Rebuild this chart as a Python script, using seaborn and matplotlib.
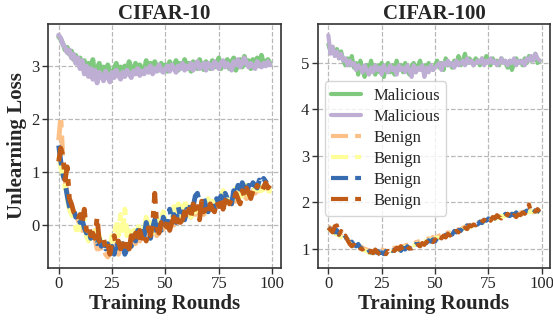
import numpy as np
import seaborn as sns
import matplotlib.pyplot as plt

rounds = list(range(100))
titles = ["CIFAR-10", "CIFAR-100"]

# CIFAR-10 unlearning loss
c10_mal_a = [3.55, 3.50, 3.42, 3.30, 3.35, 3.22, 3.28, 3.12, 3.20, 3.05,
             3.15, 2.95, 3.10, 2.85, 3.05, 2.90, 3.12, 2.80, 2.95, 3.05,
             2.85, 2.98, 2.82, 3.02, 2.88, 2.78, 2.95, 3.05, 2.90, 2.98,
             2.85, 3.00, 2.92, 3.08, 2.95, 2.88, 3.05, 2.92, 3.02, 2.95,
             2.88, 3.10, 2.95, 3.05, 2.90, 3.08, 2.98, 2.92, 3.05, 2.95,
             3.02, 2.90, 3.08, 2.95, 3.00, 3.10, 2.92, 3.05, 2.98, 3.12,
             2.95, 3.05, 2.90, 3.08, 3.00, 2.95, 3.12, 3.00, 2.93, 3.08,
             3.02, 2.95, 3.10, 2.98, 3.05, 3.15, 2.95, 3.05, 3.00, 3.12,
             2.95, 3.08, 3.15, 2.92, 3.05, 3.12, 2.98, 3.18, 3.02, 3.10,
             2.95, 3.12, 3.05, 3.15, 3.00, 3.20, 3.02, 3.08, 3.12, 3.05]
c10_mal_b = [3.58, 3.52, 3.40, 3.35, 3.25, 3.30, 3.15, 3.22, 3.05, 3.15,
             2.95, 3.10, 2.85, 3.00, 2.80, 2.95, 2.75, 2.92, 2.68, 2.88,
             2.82, 2.72, 2.90, 2.80, 2.70, 2.88, 2.78, 2.92, 2.82, 2.75,
             2.88, 2.80, 2.92, 2.85, 2.78, 2.90, 2.85, 2.95, 2.82, 2.90,
             2.85, 2.95, 2.88, 3.00, 2.85, 2.95, 2.90, 3.02, 2.92, 2.88,
             2.95, 3.00, 2.90, 3.02, 2.95, 2.88, 3.00, 2.95, 3.05, 2.92,
             3.00, 2.95, 3.05, 2.92, 3.02, 3.08, 2.95, 3.00, 3.05, 2.92,
             3.05, 3.00, 2.95, 3.08, 3.02, 2.95, 3.05, 3.10, 2.98, 3.05,
             3.00, 2.92, 3.08, 3.02, 3.12, 2.98, 3.05, 3.15, 3.05, 2.98,
             3.05, 3.00, 2.95, 3.08, 3.02, 2.98, 3.05, 3.00, 3.08, 3.02]
c10_ben_a = [1.60, 2.05, 1.20, 0.85, 0.60, 0.40, 0.30, 0.20, 0.25, 0.10,
             0.00, -0.10, -0.05, -0.20, -0.25, -0.30, -0.35, -0.25, -0.45, -0.40,
             -0.50, -0.45, -0.55, -0.60, -0.50, -0.45, -0.50, -0.40, -0.55, -0.45,
             -0.50, -0.40, -0.45, -0.35, -0.40, -0.30, -0.35, -0.25, -0.30, -0.20,
             -0.25, -0.15, -0.20, -0.10, -0.15, -0.05, -0.20, -0.10, -0.15, -0.05,
             -0.10, 0.00, -0.05, 0.05, 0.00, 0.10, 0.05, 0.15, 0.10, 0.15,
             0.10, 0.20, 0.15, 0.25, 0.20, 0.30, 0.25, 0.35, 0.20, 0.30,
             0.25, 0.35, 0.30, 0.40, 0.35, 0.30, 0.40, 0.35, 0.45, 0.40,
             0.45, 0.40, 0.50, 0.45, 0.55, 0.50, 0.60, 0.55, 0.50, 0.60,
             0.55, 0.65, 0.60, 0.70, 0.65, 0.60, 0.70, 0.75, 0.68, 0.72]
c10_ben_b = [1.30, 1.10, 0.90, 0.70, 0.50, 0.30, 0.20, 0.15, -0.05, -0.20,
             0.05, 0.30, 0.10, -0.20, -0.30, -0.15, -0.25, -0.10, -0.30, -0.20,
             -0.35, -0.25, -0.40, -0.30, -0.45, -0.20, -0.30, 0.10, -0.20, 0.20,
             -0.10, 0.30, -0.20, 0.00, -0.30, -0.10, -0.20, 0.05, -0.15, -0.05,
             -0.10, 0.15, -0.05, 0.10, -0.15, 0.05, 0.20, 0.00, 0.10, 0.25,
             0.05, 0.15, -0.05, 0.10, 0.35, 0.20, 0.40, 0.10, 0.30, 0.50,
             0.20, 0.35, 0.15, 0.30, 0.25, 0.45, 0.30, 0.40, 0.35, 0.25,
             0.50, 0.30, 0.45, 0.35, 0.55, 0.40, 0.50, 0.65, 0.45, 0.55,
             0.40, 0.60, 0.50, 0.70, 0.55, 0.65, 0.50, 0.60, 0.75, 0.55,
             0.65, 0.60, 0.70, 0.55, 0.75, 0.65, 0.70, 0.60, 0.55, 0.70]
c10_ben_c = [1.50, 1.20, 0.95, 0.80, 0.55, 0.35, 0.28, 0.30, 0.15, 0.20,
             0.05, 0.10, -0.05, -0.15, -0.10, -0.25, -0.20, -0.30, -0.35, -0.25,
             -0.40, -0.30, -0.45, -0.35, -0.50, -0.40, -0.55, -0.30, -0.45, -0.50,
             -0.35, -0.55, -0.45, -0.30, -0.40, -0.20, -0.30, -0.10, -0.25, -0.05,
             -0.20, 0.05, -0.10, -0.25, -0.05, 0.10, -0.15, 0.00, -0.10, 0.15,
             0.00, 0.05, 0.30, 0.10, 0.20, 0.05, 0.35, 0.15, 0.25, 0.10,
             0.30, 0.20, 0.45, 0.35, 0.55, 0.60, 0.40, 0.30, 0.50, 0.35,
             0.25, 0.40, 0.45, 0.30, 0.50, 0.40, 0.55, 0.45, 0.60, 0.50,
             0.55, 0.40, 0.65, 0.55, 0.75, 0.60, 0.80, 0.70, 0.55, 0.75,
             0.65, 0.80, 0.75, 0.70, 0.85, 0.78, 0.88, 0.82, 0.75, 0.80]
c10_ben_d = [1.20, 1.45, 1.30, 0.85, 1.10, 0.50, 0.40, 0.25, 0.20, 0.10,
             0.20, 0.05, 0.30, -0.10, 0.00, -0.20, -0.15, -0.25, 0.15, -0.30,
             -0.35, -0.25, -0.45, -0.35, -0.55, -0.30, -0.20, -0.40, -0.30, -0.45,
             -0.35, -0.50, -0.30, -0.45, -0.20, -0.35, -0.15, -0.30, -0.10, -0.25,
             -0.15, -0.30, -0.05, -0.20, 0.00, 0.60, -0.05, -0.15, 0.05, -0.10,
             -0.05, 0.10, -0.10, 0.05, 0.15, 0.00, 0.20, 0.05, 0.10, 0.25,
             0.10, 0.30, 0.15, 0.40, 0.20, 0.35, 0.10, 0.45, 0.25, 0.30,
             0.20, 0.40, 0.30, 0.25, 0.45, 0.35, 0.50, 0.30, 0.45, 0.55,
             0.40, 0.50, 0.45, 0.60, 0.50, 0.40, 0.65, 0.55, 0.70, 0.60,
             0.50, 0.65, 0.60, 0.75, 0.68, 0.62, 0.72, 0.80, 0.70, 0.75]

# CIFAR-100 unlearning loss
c100_mal_a = [5.40, 5.25, 5.35, 5.20, 5.30, 5.10, 5.25, 5.05, 4.95, 5.10,
              4.95, 5.15, 4.90, 5.00, 4.75, 5.05, 4.85, 4.70, 4.95, 4.80,
              5.05, 4.85, 4.75, 4.95, 4.80, 5.00, 4.70, 4.90, 5.00, 4.80,
              4.95, 4.75, 5.05, 4.85, 4.95, 4.80, 5.00, 4.85, 4.75, 4.95,
              5.00, 4.80, 4.95, 5.05, 4.85, 4.95, 4.80, 5.00, 4.90, 4.85,
              4.95, 5.05, 4.90, 5.00, 4.85, 5.10, 4.95, 5.00, 4.90, 5.05,
              5.00, 5.15, 4.95, 5.05, 5.20, 5.00, 5.10, 5.05, 4.95, 5.10,
              5.05, 4.95, 5.10, 5.00, 5.15, 5.05, 4.95, 5.10, 5.00, 5.05,
              4.95, 5.10, 5.05, 5.00, 4.90, 5.05, 4.85, 5.00, 5.10, 5.00,
              5.05, 4.95, 5.10, 5.00, 5.15, 5.05, 5.10, 5.20, 5.00, 5.05]
c100_mal_b = [5.60, 5.20, 5.35, 5.15, 5.25, 5.10, 5.20, 5.05, 5.10, 4.95,
              5.05, 4.95, 5.00, 4.85, 4.95, 4.90, 4.80, 4.95, 4.85, 4.75,
              4.90, 4.80, 4.95, 4.85, 4.90, 4.75, 4.95, 4.85, 4.80, 4.95,
              4.85, 4.90, 4.75, 4.95, 4.85, 4.90, 4.80, 4.95, 4.85, 4.70,
              4.95, 4.80, 4.90, 4.85, 4.95, 4.70, 4.90, 4.80, 4.95, 4.85,
              4.90, 4.95, 5.00, 4.85, 5.00, 4.95, 5.05, 4.95, 5.00, 4.90,
              5.05, 4.95, 5.00, 5.05, 4.95, 5.10, 5.00, 5.05, 4.95, 5.00,
              5.05, 5.00, 5.10, 4.95, 5.05, 5.00, 5.10, 5.00, 5.05, 4.95,
              5.00, 5.10, 5.00, 5.05, 4.95, 5.05, 5.00, 5.10, 4.95, 5.05,
              5.00, 5.05, 4.95, 5.10, 5.05, 5.15, 5.05, 5.20, 5.10, 5.05]
c100_ben_a = [1.48, 1.45, 1.40, 1.38, 1.35, 1.32, 1.28, 1.25, 1.22, 1.18,
              1.15, 1.12, 1.10, 1.08, 1.05, 1.05, 1.02, 1.00, 0.98, 0.96,
              0.95, 0.93, 0.92, 0.94, 0.96, 0.98, 0.95, 0.97, 1.00, 0.98,
              1.00, 1.02, 1.00, 1.03, 1.05, 1.04, 1.07, 1.08, 1.10, 1.12,
              1.10, 1.14, 1.15, 1.17, 1.16, 1.19, 1.20, 1.22, 1.20, 1.25,
              1.22, 1.26, 1.28, 1.30, 1.28, 1.32, 1.35, 1.33, 1.38, 1.36,
              1.40, 1.42, 1.40, 1.45, 1.47, 1.50, 1.48, 1.52, 1.55, 1.53,
              1.56, 1.58, 1.60, 1.58, 1.62, 1.64, 1.62, 1.66, 1.68, 1.66,
              1.70, 1.68, 1.72, 1.70, 1.74, 1.72, 1.75, 1.73, 1.76, 1.74,
              1.78, 1.76, 1.80, 1.78, 1.82, 1.80, 1.78, 1.82, 1.80, 1.82]
c100_ben_b = [1.42, 1.40, 1.36, 1.33, 1.30, 1.28, 1.25, 1.20, 1.18, 1.15,
              1.12, 1.08, 1.06, 1.04, 1.02, 1.00, 0.98, 0.96, 0.94, 0.92,
              0.90, 0.92, 0.88, 0.90, 0.86, 0.92, 0.90, 0.94, 0.92, 0.96,
              0.94, 0.97, 0.99, 0.98, 1.00, 1.02, 1.04, 1.02, 1.06, 1.08,
              1.07, 1.10, 1.12, 1.11, 1.14, 1.16, 1.15, 1.18, 1.20, 1.19,
              1.22, 1.24, 1.23, 1.26, 1.28, 1.30, 1.29, 1.32, 1.34, 1.36,
              1.38, 1.37, 1.40, 1.42, 1.44, 1.46, 1.45, 1.48, 1.50, 1.52,
              1.54, 1.53, 1.56, 1.58, 1.60, 1.62, 1.61, 1.64, 1.66, 1.65,
              1.68, 1.70, 1.69, 1.72, 1.71, 1.74, 1.73, 1.76, 1.75, 1.74,
              1.77, 1.76, 1.79, 1.78, 1.80, 1.79, 1.81, 1.80, 1.79, 1.81]
c100_ben_c = [1.45, 1.42, 1.38, 1.35, 1.40, 1.30, 1.32, 1.22, 1.25, 1.20,
              1.10, 1.15, 1.08, 1.05, 1.10, 1.02, 1.00, 0.98, 1.02, 0.95,
              0.92, 0.88, 0.82, 0.95, 0.90, 0.92, 0.88, 0.95, 0.92, 0.98,
              0.95, 0.98, 0.92, 1.00, 0.95, 1.02, 0.98, 1.05, 1.00, 1.08,
              1.05, 1.10, 1.08, 1.12, 1.10, 1.15, 1.12, 1.18, 1.15, 1.20,
              1.15, 1.22, 1.20, 1.28, 1.25, 1.30, 1.28, 1.35, 1.30, 1.38,
              1.35, 1.40, 1.38, 1.45, 1.42, 1.50, 1.48, 1.52, 1.50, 1.55,
              1.52, 1.58, 1.55, 1.62, 1.60, 1.65, 1.62, 1.68, 1.65, 1.70,
              1.68, 1.72, 1.70, 1.75, 1.72, 1.70, 1.75, 1.72, 1.78, 1.74,
              1.76, 1.80, 1.78, 1.82, 1.80, 1.78, 1.84, 1.80, 1.82, 1.78]
c100_ben_d = [1.45, 1.40, 1.35, 1.48, 1.50, 1.30, 1.38, 1.25, 1.28, 1.18,
              1.10, 1.05, 1.08, 1.02, 1.06, 1.00, 0.98, 1.02, 0.95, 0.92,
              0.95, 0.90, 0.98, 0.92, 0.88, 0.85, 0.92, 0.88, 0.95, 0.90,
              0.98, 0.95, 1.02, 0.98, 1.05, 0.95, 0.92, 0.98, 1.02, 1.00,
              1.05, 1.02, 1.08, 1.05, 1.12, 1.08, 1.15, 1.10, 1.18, 1.14,
              1.20, 1.15, 1.25, 1.22, 1.28, 1.24, 1.32, 1.28, 1.35, 1.32,
              1.38, 1.35, 1.42, 1.38, 1.45, 1.42, 1.50, 1.48, 1.52, 1.50,
              1.55, 1.52, 1.58, 1.62, 1.58, 1.65, 1.60, 1.68, 1.65, 1.72,
              1.68, 1.65, 1.72, 1.68, 1.75, 1.70, 1.65, 1.72, 1.68, 1.74,
              1.72, 1.78, 1.75, 1.80, 1.95, 1.78, 1.82, 1.80, 1.85, 1.80]

labels = ["Malicious", "Malicious", "Benign", "Benign", "Benign", "Benign"]
acc = sns.color_palette("Accent", 8)
colors = [acc[0], acc[1], acc[2], acc[3], acc[4], acc[6]]
dashdot = (0, (4.1, 1.7, 1.4, 1.7))
styles = ["-", "-", dashdot, dashdot, dashdot, dashdot]

panels = [
    [c10_mal_a, c10_mal_b, c10_ben_a, c10_ben_b, c10_ben_c, c10_ben_d],
    [c100_mal_a, c100_mal_b, c100_ben_a, c100_ben_b, c100_ben_c, c100_ben_d],
]

sns.set_style("whitegrid", {"grid.linestyle": "--", "grid.color": "#b8b8b8",
                            "axes.edgecolor": "#333333"})
plt.rcParams["font.family"] = ["Liberation Serif", "DejaVu Serif"]

fig, axes = plt.subplots(1, 2, figsize=(5.53, 3.21), dpi=100)
fig.subplots_adjust(left=0.087, right=0.995, bottom=0.165, top=0.925, wspace=0.16)

for ax, title, series in zip(axes, titles, panels):
    for vals, lab, c, ls in zip(series, labels, colors, styles):
        sns.lineplot(x=rounds, y=vals, ax=ax, color=c, lw=3.5, linestyle=ls,
                     label=lab, legend=False)
    ax.set_title(title, fontsize=15, fontweight="bold", pad=4)
    ax.set_xlabel("Training Rounds", fontsize=15, fontweight="bold", labelpad=1)
    ax.set_xticks([0, 25, 50, 75, 100])
    ax.tick_params(left=True, bottom=True, length=4, width=1, labelsize=12,
                   color="#333333", pad=2)
    ax.grid(True, linewidth=0.9)
    for sp in ax.spines.values():
        sp.set_linewidth(1.2)

axes[0].set_ylabel("Unlearning Loss", fontsize=15, fontweight="bold", labelpad=3)
axes[0].set_yticks([0, 1, 2, 3])
axes[1].set_yticks([1, 2, 3, 4, 5])

handles, labs = axes[1].get_legend_handles_labels()
for h in handles:
    h.set_linewidth(3)
axes[1].legend(handles, labs, loc="upper left", bbox_to_anchor=(0.03, 0.765),
               borderaxespad=0, fontsize=12, handlelength=1.8, handletextpad=0.7,
               labelspacing=0.3, framealpha=0.8, fancybox=True)

plt.savefig("out.png", dpi=100)
